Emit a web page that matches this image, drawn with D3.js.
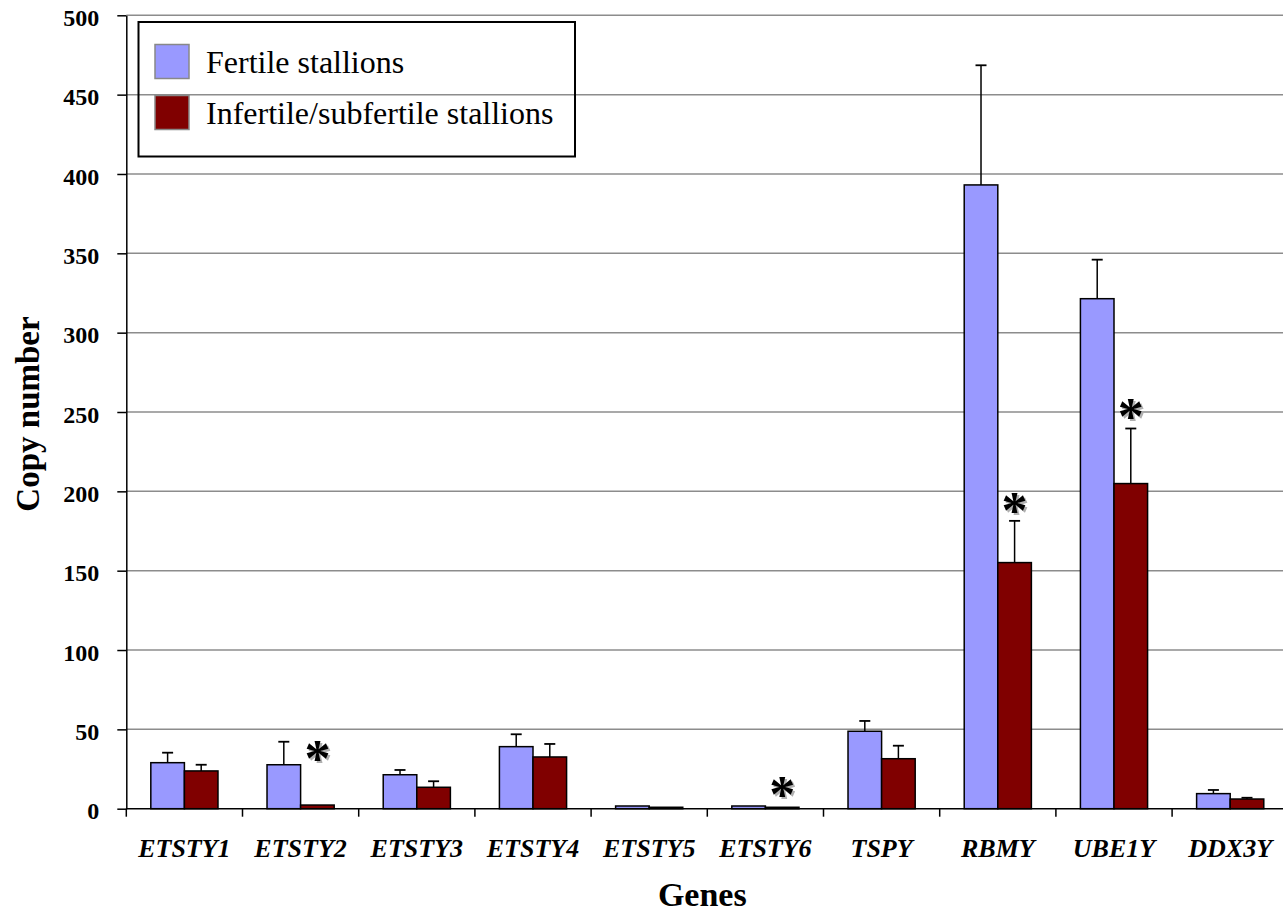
<!DOCTYPE html>
<html>
<head>
<meta charset="utf-8">
<script src="https://cdn.jsdelivr.net/npm/d3@7"></script>
<style>
  body { margin: 0; background: #fff; }
  svg { display: block; }
  .grid line { stroke: #8c8c8c; stroke-width: 1.5; }
  .axis path, .axis line { stroke: #000; stroke-width: 1.5; }
</style>
</head>
<body>
<div id="chart"></div>
<script>
// data
var genes = ["ETSTY1", "ETSTY2", "ETSTY3", "ETSTY4", "ETSTY5", "ETSTY6", "TSPY", "RBMY", "UBE1Y", "DDX3Y"];
var groups = ["Fertile stallions", "Infertile/subfertile stallions"];
var fertile = [29.0, 27.7, 21.4, 39.1, 1.7, 1.7, 48.8, 393.1, 321.4, 9.5];
var fertileErr = [6.3, 14.5, 3.0, 7.8, 0, 0, 6.5, 75.4, 24.6, 2.3];
var infertile = [23.8, 2.3, 13.5, 32.6, 0.9, 0.9, 31.5, 155.1, 204.9, 6.1];
var infertileErr = [3.9, 0, 3.8, 8.2, 0, 0, 8.2, 26.3, 34.7, 0.8];
var yTicks = [0, 50, 100, 150, 200, 250, 300, 350, 400, 450, 500];
// significance marks (gene, height in copy numbers)
var sigMarks = [
  { gene: "ETSTY2", at: 37 },
  { gene: "ETSTY6", at: 14 },
  { gene: "RBMY", at: 193.5 },
  { gene: "UBE1Y", at: 252.5 }
];
var colors = ["#9999ff", "#800000"];

var width = 1283, height = 913;
var plot = { left: 126.3, right: 1288.3, top: 15.3, bottom: 808.7 };
var serif = "'Liberation Serif', 'Times New Roman', serif";

var svg = d3.select("#chart").append("svg")
    .attr("width", width)
    .attr("height", height);

var xScale = d3.scaleBand().domain(genes).range([plot.left, plot.right]).padding(0);
var xInner = d3.scaleBand().domain(groups).range([0, xScale.bandwidth()])
    .paddingInner(0).paddingOuter(0.73);
var yScale = d3.scaleLinear().domain([0, 500]).range([plot.bottom, plot.top]);

// gridlines
svg.append("g")
    .attr("class", "grid")
    .selectAll("line")
    .data(yTicks.slice(1))
    .enter().append("line")
    .attr("x1", plot.left).attr("x2", width)
    .attr("y1", function(d) { return yScale(d); })
    .attr("y2", function(d) { return yScale(d); });

// rows for bars
var rows = genes.map(function(g, i) {
    return [
        { gene: g, group: groups[0], value: fertile[i], err: fertileErr[i], color: colors[0] },
        { gene: g, group: groups[1], value: infertile[i], err: infertileErr[i], color: colors[1] }
    ];
});

var geneG = svg.append("g").selectAll("g")
    .data(rows)
    .enter().append("g")
    .attr("transform", function(d) { return "translate(" + xScale(d[0].gene) + ",0)"; });

// error bars (upper only)
geneG.selectAll("g.err")
    .data(function(d) { return d.filter(function(r) { return r.err > 0; }); })
    .enter().append("g")
    .attr("class", "err")
    .each(function(d) {
        var cx = xInner(d.group) + xInner.bandwidth() / 2;
        var g = d3.select(this);
        g.append("line")
            .attr("x1", cx).attr("x2", cx)
            .attr("y1", yScale(d.value)).attr("y2", yScale(d.value + d.err))
            .attr("stroke", "#000").attr("stroke-width", 1.5);
        g.append("line")
            .attr("x1", cx - 5.5).attr("x2", cx + 5.5)
            .attr("y1", yScale(d.value + d.err)).attr("y2", yScale(d.value + d.err))
            .attr("stroke", "#000").attr("stroke-width", 1.8);
    });

geneG.selectAll("rect")
    .data(function(d) { return d; })
    .enter().append("rect")
    .attr("x", function(d) { return xInner(d.group); })
    .attr("width", xInner.bandwidth())
    .attr("y", function(d) { return yScale(d.value); })
    .attr("height", function(d) { return yScale(0) - yScale(d.value); })
    .attr("fill", function(d) { return d.color; })
    .attr("stroke", "#000")
    .attr("stroke-width", 1.5);

// significance asterisks with grey shadow
var starX = function(d) { return xScale(d.gene) + xInner(groups[1]) + xInner.bandwidth() / 2; };
var starFont = 52;
[["#b0b0b0", 2], ["#000", 0]].forEach(function(s) {
    svg.append("g").selectAll("text")
        .data(sigMarks)
        .enter().append("text")
        .attr("x", function(d) { return starX(d) + s[1]; })
        .attr("y", function(d) { return yScale(d.at) + starFont * 0.5 + s[1]; })
        .attr("text-anchor", "middle")
        .style("font-family", serif)
        .style("font-weight", "bold")
        .style("font-size", starFont + "px")
        .style("fill", s[0])
        .text("*");
});

// y axis
var yAxis = svg.append("g")
    .attr("class", "axis")
    .attr("transform", "translate(" + plot.left + ",0)")
    .call(d3.axisLeft(yScale).tickValues(yTicks).tickSize(9).tickSizeOuter(0).tickPadding(18));
yAxis.selectAll("text")
    .style("font-family", serif)
    .style("font-weight", "bold")
    .style("font-size", "24px")
    .attr("dy", "0.42em")
    .attr("fill", "#000");

// x axis with ticks at category boundaries
var xAxis = svg.append("g")
    .attr("class", "axis")
    .attr("transform", "translate(0," + plot.bottom + ")");
xAxis.append("line")
    .attr("x1", plot.left).attr("x2", width)
    .attr("y1", 0).attr("y2", 0);
xAxis.selectAll("line.tick")
    .data(genes)
    .enter().append("line")
    .attr("class", "tick")
    .attr("x1", function(d) { return xScale(d); })
    .attr("x2", function(d) { return xScale(d); })
    .attr("y1", 0).attr("y2", 8);
xAxis.selectAll("text")
    .data(genes)
    .enter().append("text")
    .attr("x", function(d) { return xScale(d) + xScale.bandwidth() / 2; })
    .attr("y", 48)
    .attr("text-anchor", "middle")
    .style("font-family", serif)
    .style("font-weight", "bold")
    .style("font-style", "italic")
    .style("font-size", "26px")
    .text(function(d) { return d; });

// axis titles
svg.append("text")
    .attr("x", (plot.left + plot.right) / 2 - 5)
    .attr("y", 906)
    .attr("text-anchor", "middle")
    .style("font-family", serif)
    .style("font-weight", "bold")
    .style("font-size", "34px")
    .text("Genes");

svg.append("text")
    .attr("transform", "translate(39," + ((plot.top + plot.bottom) / 2 + 2) + ") rotate(-90)")
    .attr("text-anchor", "middle")
    .style("font-family", serif)
    .style("font-weight", "bold")
    .style("font-size", "33px")
    .text("Copy number");

// legend
var legend = svg.append("g");
legend.append("rect")
    .attr("x", 138.5).attr("y", 22)
    .attr("width", 436.5).attr("height", 134.5)
    .attr("fill", "none")
    .attr("stroke", "#000")
    .attr("stroke-width", 2);
var item = legend.selectAll("g")
    .data(groups)
    .enter().append("g")
    .attr("transform", function(d, i) { return "translate(155," + (44.5 + i * 51) + ")"; });
item.append("rect")
    .attr("width", 34).attr("height", 34)
    .attr("fill", function(d, i) { return colors[i]; })
    .attr("stroke", "#888")
    .attr("stroke-width", 1.5);
item.append("text")
    .attr("x", 51)
    .attr("y", 28)
    .style("font-family", serif)
    .style("font-size", "32px")
    .text(function(d) { return d; });
</script>
</body>
</html>
